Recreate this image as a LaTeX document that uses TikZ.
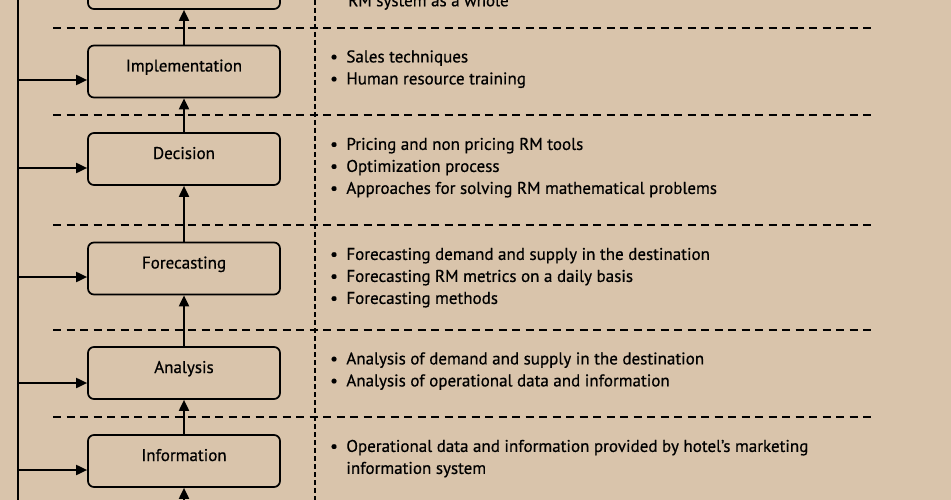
\documentclass[tikz,border=0pt]{standalone}
\usepackage{fontspec}
\setmainfont{PT Sans}[BoldFont=PT Sans, BoldFeatures={FakeBold=0.6}]
\usetikzlibrary{arrows.meta}
\definecolor{paper}{RGB}{217,196,171}
\tikzset{
  stage/.style={draw, line width=1.7pt, rounded corners=6pt, minimum width=192pt,
                minimum height=52pt, text height=8pt, text depth=8pt,
                font=\fontsize{17}{22}\selectfont\bfseries},
  link/.style={line width=1.9pt, -{Triangle[length=11pt,width=10pt]}},
  rule/.style={line width=2.2pt, dash pattern=on 8pt off 5.5pt},
  ruleup/.style={line width=1.8pt, dash pattern=on 5pt off 3pt},
  notes/.style={anchor=west, inner sep=0pt, font=\fontsize{17}{22}\selectfont\bfseries}
}
\newcommand{\itemrow}[1]{\textbullet & #1}
\begin{document}
\begin{tikzpicture}[x=1pt,y=1pt]
        \fill[paper] (0,0) rectangle (951,-500);
        \useasboundingbox (0,0) rectangle (951,-500);
        % separators
        \foreach \h in {28,115,225,330,417}
            \draw[rule] (53,-\h) -- (873,-\h);
        \draw[ruleup] (315,0) -- (315,-500);
        % stages
        \node[stage](top)  at (184,17)     {};
        \node[stage](impl) at (184,-71.5)  {Implementation};
        \node[stage](dec)  at (184,-159)   {Decision};
        \node[stage](fore) at (184,-268.5) {Forecasting};
        \node[stage](ana)  at (184,-373)   {Analysis};
        \node[stage](info) at (184,-461)   {Information};
        \coordinate (below) at (184,-520);
        % feedback rail
        \coordinate (railtop) at (18,0);
        \coordinate (railbot) at (18,-500);
        \coordinate (r-impl) at (18,-80);
        \coordinate (r-dec)  at (18,-168);
        \coordinate (r-fore) at (18,-277);
        \coordinate (r-ana)  at (18,-383);
        \coordinate (r-info) at (18,-470);
        \draw[line width=1.9pt] (railtop) -- (railbot);
        \path[link]
            (below) edge (info)
            (info)  edge (ana)
            (ana)   edge (fore)
            (fore)  edge (dec)
            (dec)   edge (impl)
            (impl)  edge (top)
            (r-impl) edge (impl.west |- r-impl)
            (r-dec)  edge (dec.west  |- r-dec)
            (r-fore) edge (fore.west |- r-fore)
            (r-ana)  edge (ana.west  |- r-ana)
            (r-info) edge (info.west |- r-info)
            ;
        % notes
        \node[notes](n-top) at (348,-2) {RM system as a whole};
        \node[notes](n-impl) at (330,-69) {\begin{tabular}{@{}l@{\hspace{8.5pt}}l@{}}
            \itemrow{Sales techniques}\\
            \itemrow{Human resource training}\end{tabular}};
        \node[notes](n-dec) at (330,-167.5) {\begin{tabular}{@{}l@{\hspace{8.5pt}}l@{}}
            \itemrow{Pricing and non pricing RM tools}\\
            \itemrow{Optimization process}\\
            \itemrow{Approaches for solving RM mathematical problems}\end{tabular}};
        \node[notes](n-fore) at (330,-277.5) {\begin{tabular}{@{}l@{\hspace{8.5pt}}l@{}}
            \itemrow{Forecasting demand and supply in the destination}\\
            \itemrow{Forecasting RM metrics on a daily basis}\\
            \itemrow{Forecasting methods}\end{tabular}};
        \node[notes](n-ana) at (330,-371) {\begin{tabular}{@{}l@{\hspace{8.5pt}}l@{}}
            \itemrow{Analysis of demand and supply in the destination}\\
            \itemrow{Analysis of operational data and information}\end{tabular}};
        \node[notes](n-info) at (330,-458.5) {\begin{tabular}{@{}l@{\hspace{8.5pt}}l@{}}
            \itemrow{Operational data and information provided by hotel’s marketing}\\
            & information system\end{tabular}};
\end{tikzpicture}
\end{document}
